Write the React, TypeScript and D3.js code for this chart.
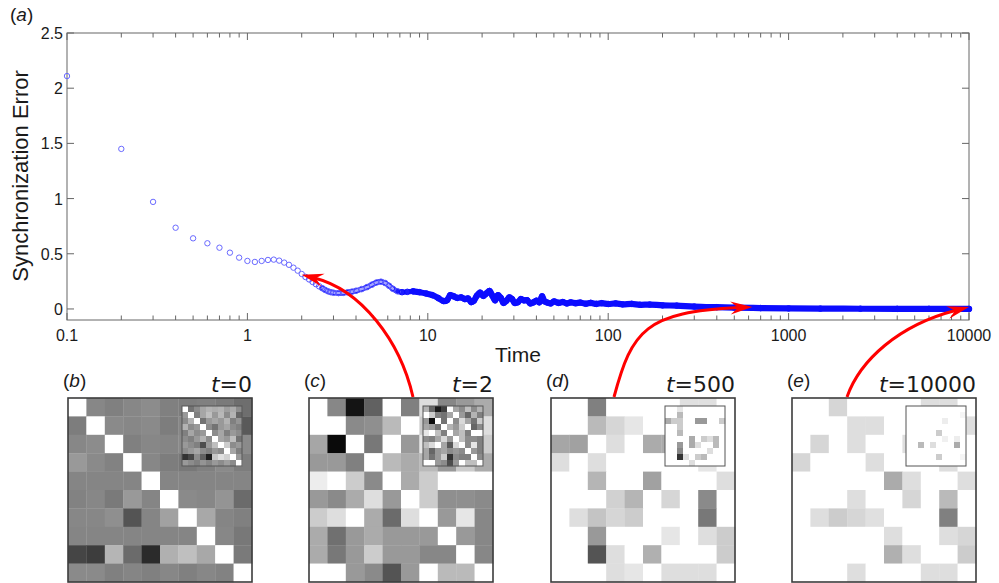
import React, { useEffect, useRef } from 'react';
import * as d3 from 'd3';

// synchronization error, sparse samples (t = 0.1 .. 2.0)
const earlyTime = [0.1, 0.2, 0.3, 0.4, 0.5, 0.6, 0.7, 0.8, 0.9, 1.0, 1.1, 1.2, 1.3, 1.4, 1.5, 1.6, 1.7, 1.8, 1.9, 2.0];
const earlyError = [2.11, 1.45, 0.97, 0.736, 0.64, 0.595, 0.555, 0.51, 0.465, 0.435, 0.426, 0.435, 0.444, 0.447, 0.438, 0.42, 0.4, 0.374, 0.347, 0.317];

// dense part (t > 2)
const denseTime = [2.1, 2.2, 2.3, 2.4, 2.5, 2.6, 2.7, 2.8, 2.9, 3.0, 3.2, 3.4, 3.6, 3.8, 4.0, 4.3, 4.6, 4.9, 5.2, 5.5, 5.8, 6.1, 6.4, 6.8, 7.2, 7.7, 8.3, 9.0, 9.8, 10.6, 11.4, 12.2, 12.8, 13.3, 13.9, 14.6, 15.3, 16.0, 16.7, 17.4, 18.0, 18.7, 19.5, 20.3, 21.1, 22.0, 22.8, 23.6, 24.5, 25.4, 26.3, 27.3, 28.3, 29.3, 30.3, 31.5, 32.8, 34.1, 35.5, 37.0, 38.5, 40.0, 41.5, 43.0, 44.3, 46.0, 48.0, 50, 53, 56, 59, 62, 66, 70, 75, 80, 86, 92, 100, 110, 120, 135, 150, 170, 200, 240, 300, 400, 500, 700, 1000, 1500, 2500, 4000, 6000, 10000];
const denseError = [0.29, 0.268, 0.245, 0.225, 0.205, 0.188, 0.172, 0.16, 0.152, 0.147, 0.144, 0.146, 0.151, 0.157, 0.165, 0.18, 0.198, 0.22, 0.24, 0.247, 0.235, 0.21, 0.183, 0.16, 0.152, 0.155, 0.16, 0.152, 0.14, 0.125, 0.1, 0.072, 0.08, 0.125, 0.115, 0.1, 0.105, 0.09, 0.095, 0.062, 0.075, 0.12, 0.148, 0.118, 0.14, 0.163, 0.12, 0.078, 0.125, 0.1, 0.055, 0.075, 0.105, 0.09, 0.055, 0.06, 0.09, 0.078, 0.08, 0.05, 0.06, 0.075, 0.06, 0.115, 0.07, 0.058, 0.05, 0.068, 0.055, 0.063, 0.05, 0.06, 0.052, 0.058, 0.047, 0.055, 0.046, 0.052, 0.045, 0.05, 0.042, 0.046, 0.038, 0.04, 0.033, 0.03, 0.022, 0.016, 0.012, 0.008, 0.005, 0.003, 0.002, 0.001, 0.001, 0];

const xTicks = [0.1, 1, 10, 100, 1000, 10000];
const yTicks = [0, 0.5, 1, 1.5, 2, 2.5];

// coupling matrices, darkness 0 (white) .. 100 (black)
const matB = [
  [0, 47, 50, 47, 45, 50, 51, 50, 52, 57],
  [51, 0, 46, 47, 46, 51, 47, 48, 50, 65],
  [47, 45, 0, 50, 47, 48, 46, 47, 47, 46],
  [40, 46, 49, 0, 47, 51, 53, 50, 46, 51],
  [48, 48, 48, 48, 0, 48, 48, 48, 48, 48],
  [49, 47, 52, 40, 48, 0, 46, 47, 42, 58],
  [47, 47, 44, 67, 48, 37, 0, 34, 48, 50],
  [48, 48, 48, 48, 48, 48, 48, 0, 47, 53],
  [73, 76, 29, 58, 83, 31, 25, 34, 0, 52],
  [46, 46, 50, 48, 50, 47, 50, 47, 49, 0],
];
const insetB = [
  [0, 55, 45, 35, 30, 32, 30, 38, 33, 45],
  [40, 0, 50, 35, 25, 40, 28, 45, 30, 60],
  [45, 30, 0, 55, 40, 35, 40, 30, 50, 42],
  [30, 45, 40, 0, 45, 55, 40, 35, 45, 50],
  [50, 35, 45, 40, 0, 45, 35, 50, 40, 45],
  [45, 50, 40, 30, 45, 0, 35, 40, 25, 55],
  [40, 45, 50, 70, 40, 25, 0, 20, 45, 40],
  [45, 40, 35, 45, 50, 40, 45, 0, 35, 50],
  [80, 72, 45, 62, 88, 22, 12, 18, 0, 40],
  [40, 45, 50, 42, 48, 40, 45, 38, 45, 0],
];
const matC = [
  [0, 47, 92, 62, 0, 50, 13, 47, 40, 33],
  [0, 0, 46, 44, 27, 0, 20, 35, 30, 13],
  [35, 96, 0, 53, 0, 40, 10, 30, 40, 20],
  [40, 40, 50, 0, 27, 33, 27, 40, 20, 33],
  [7, 0, 20, 46, 0, 33, 20, 0, 0, 0],
  [40, 46, 33, 13, 40, 0, 20, 44, 44, 46],
  [20, 13, 0, 33, 58, 13, 0, 40, 10, 47],
  [33, 56, 40, 33, 40, 40, 40, 0, 40, 47],
  [33, 53, 40, 20, 40, 40, 47, 47, 0, 47],
  [0, 0, 40, 46, 67, 40, 0, 27, 27, 0],
];
const insetC = [
  [30, 60, 90, 75, 0, 35, 45, 25, 45, 30],
  [0, 20, 50, 55, 35, 0, 40, 60, 30, 50],
  [40, 95, 0, 55, 0, 45, 15, 35, 55, 20],
  [35, 40, 55, 0, 30, 40, 20, 0, 60, 45],
  [10, 0, 25, 50, 0, 35, 25, 50, 0, 0],
  [45, 50, 35, 15, 40, 0, 25, 45, 45, 50],
  [25, 15, 0, 35, 65, 15, 0, 45, 10, 50],
  [35, 60, 40, 35, 45, 40, 45, 0, 40, 50],
  [35, 55, 40, 20, 80, 45, 50, 50, 0, 45],
  [0, 0, 40, 45, 70, 40, 0, 25, 25, 0],
];
const matD = [
  [0, 0, 50, 0, 0, 0, 0, 12, 12, 0],
  [0, 0, 27, 16, 10, 0, 0, 0, 0, 0],
  [35, 37, 0, 13, 0, 33, 33, 0, 0, 0],
  [13, 0, 13, 0, 0, 0, 0, 0, 10, 0],
  [0, 0, 29, 0, 0, 37, 0, 0, 0, 13],
  [0, 0, 0, 18, 29, 0, 16, 0, 46, 0],
  [0, 13, 23, 16, 20, 0, 0, 0, 53, 0],
  [0, 0, 40, 0, 0, 0, 10, 0, 13, 20],
  [0, 0, 67, 13, 0, 31, 0, 0, 0, 20],
  [0, 0, 0, 13, 10, 0, 13, 13, 13, 0],
];
const insetD = [
  [0, 0, 10, 0, 0, 0, 0, 0, 0, 0],
  [0, 0, 27, 0, 0, 0, 0, 0, 0, 0],
  [33, 20, 20, 0, 0, 40, 40, 0, 0, 20],
  [0, 0, 20, 0, 0, 0, 0, 0, 0, 0],
  [0, 0, 27, 0, 0, 0, 0, 0, 0, 0],
  [0, 0, 0, 0, 33, 0, 20, 13, 27, 0],
  [0, 0, 40, 0, 33, 13, 0, 0, 27, 0],
  [0, 0, 47, 0, 0, 0, 0, 13, 0, 0],
  [0, 0, 80, 13, 0, 20, 27, 0, 0, 0],
  [0, 0, 0, 0, 13, 0, 0, 0, 0, 0],
];
const matE = [
  [0, 0, 16, 0, 0, 0, 0, 13, 13, 0],
  [0, 0, 0, 13, 13, 0, 0, 0, 0, 13],
  [0, 16, 0, 13, 0, 0, 13, 0, 0, 0],
  [16, 0, 0, 0, 13, 0, 0, 0, 13, 0],
  [0, 0, 0, 0, 0, 33, 13, 0, 0, 13],
  [0, 0, 0, 13, 0, 0, 16, 0, 27, 0],
  [0, 13, 20, 16, 12, 0, 0, 0, 50, 0],
  [0, 0, 0, 0, 0, 13, 0, 0, 13, 16],
  [0, 0, 0, 0, 0, 31, 13, 0, 0, 20],
  [0, 0, 0, 13, 0, 0, 0, 13, 13, 0],
];
const insetE = [
  [0, 0, 0, 0, 0, 0, 0, 0, 0, 0],
  [0, 0, 0, 0, 0, 0, 0, 0, 0, 4],
  [0, 0, 0, 0, 0, 0, 7, 0, 0, 0],
  [0, 0, 0, 0, 0, 0, 0, 0, 0, 0],
  [0, 0, 0, 0, 0, 20, 0, 0, 0, 0],
  [0, 0, 0, 0, 0, 0, 6, 0, 7, 0],
  [0, 0, 27, 0, 13, 0, 0, 0, 33, 0],
  [0, 0, 0, 0, 0, 0, 0, 0, 0, 0],
  [0, 0, 0, 0, 0, 20, 0, 0, 0, 4],
  [0, 0, 0, 0, 0, 0, 0, 0, 0, 0],
];

const panelLetters = ['b', 'c', 'd', 'e'];
const panelTimes = ['0', '2', '500', '10000'];
const panelMain = [matB, matC, matD, matE];
const panelInset = [insetB, insetC, insetD, insetE];

// arrows: which panel they leave from and the (t, error) they point at
const arrowPanel = [1, 2, 3];
const arrowTime = [2, 630, 10000];
const arrowError = [0.31, 0.018, 0.018];

const SANS = '"Liberation Sans", Arial, Helvetica, sans-serif';
const VERA = '"DejaVu Sans", Verdana, sans-serif';

const App = () => {
  const svgRef = useRef<SVGSVGElement>(null);

  useEffect(() => {
    const svg = d3.select(svgRef.current);
    svg.selectAll('*').remove();

    const left = 67, right = 969, top = 33, bottom = 320;
    const x = d3.scaleLog().domain([0.1, 10000]).range([left, right]);
    const y = d3.scaleLinear().domain([-0.1, 2.5]).range([bottom, top]);
    const axisColor = '#666666';

    const g = svg.append('g');

    // frame
    g.append('rect')
      .attr('x', left).attr('y', top)
      .attr('width', right - left).attr('height', bottom - top)
      .attr('fill', 'none').attr('stroke', axisColor).attr('stroke-width', 1);

    // x ticks (log, inward, top + bottom)
    const allX = x.ticks();
    allX.forEach(v => {
      const major = Math.abs(Math.log10(v) - Math.round(Math.log10(v))) < 1e-6;
      const len = major ? 7 : 4.5;
      const px = x(v);
      g.append('line').attr('x1', px).attr('x2', px).attr('y1', bottom).attr('y2', bottom - len)
        .attr('stroke', axisColor);
      g.append('line').attr('x1', px).attr('x2', px).attr('y1', top).attr('y2', top + len)
        .attr('stroke', axisColor);
    });
    yTicks.forEach(v => {
      g.append('line').attr('x1', left).attr('x2', left + 7).attr('y1', y(v)).attr('y2', y(v))
        .attr('stroke', axisColor);
      g.append('line').attr('x1', right).attr('x2', right - 7).attr('y1', y(v)).attr('y2', y(v))
        .attr('stroke', axisColor);
    });

    g.selectAll('.xlab').data(xTicks).enter().append('text')
      .attr('x', d => x(d)).attr('y', 341)
      .attr('text-anchor', 'middle')
      .style('font-family', SANS).style('font-size', '16px').style('fill', '#1a1a1a')
      .text(d => String(d));

    g.selectAll('.ylab').data(yTicks).enter().append('text')
      .attr('x', 63).attr('y', d => y(d) + 6)
      .attr('text-anchor', 'end')
      .style('font-family', SANS).style('font-size', '16px').style('fill', '#1a1a1a')
      .text(d => String(d));

    g.append('text')
      .attr('x', 518).attr('y', 362)
      .attr('text-anchor', 'middle')
      .style('font-family', SANS).style('font-size', '21px').style('fill', '#1a1a1a')
      .text('Time');

    g.append('text')
      .attr('transform', 'translate(28, 176) rotate(-90)')
      .attr('text-anchor', 'middle')
      .style('font-family', SANS).style('font-size', '22px').style('fill', '#1a1a1a')
      .text('Synchronization Error');

    const aLab = g.append('text').attr('x', 10).attr('y', 21)
      .style('font-family', SANS).style('font-size', '19px').style('fill', '#1a1a1a');
    aLab.append('tspan').text('(');
    aLab.append('tspan').style('font-style', 'italic').text('a');
    aLab.append('tspan').text(')');

    // dense band
    const dense = denseTime.map((t, i) => ({ t, v: denseError[i] }));
    const line = d3.line<{ t: number; v: number }>()
      .x(d => x(d.t)).y(d => y(d.v))
      .curve(d3.curveCatmullRom);

    g.append('path')
      .datum(dense.filter(d => d.t >= 2.6 && d.t <= 8.5))
      .attr('d', line)
      .attr('fill', 'none').attr('stroke', '#1c1cff').attr('stroke-width', 5.2)
      .attr('stroke-linecap', 'round');
    g.append('path')
      .datum(dense.filter(d => d.t >= 8))
      .attr('d', line)
      .attr('fill', 'none').attr('stroke', '#0c0cff').attr('stroke-width', 6.2)
      .attr('stroke-linecap', 'round');
    g.append('path')
      .datum(dense.filter(d => d.t >= 2.6 && d.t <= 6.6))
      .attr('d', line)
      .attr('fill', 'none').attr('stroke', '#a4a4ff').attr('stroke-width', 2.6)
      .attr('stroke-linecap', 'round');

    g.selectAll('.dpt').data(dense).enter().append('circle')
      .attr('cx', d => x(d.t)).attr('cy', d => y(d.v)).attr('r', 2.8)
      .attr('fill', 'none')
      .attr('stroke', d => (d.t < 7 ? '#5858ff' : '#0c0cff'))
      .attr('stroke-width', 1);

    g.selectAll('.ept').data(earlyTime).enter().append('circle')
      .attr('cx', d => x(d)).attr('cy', (d, i) => y(earlyError[i])).attr('r', 2.7)
      .attr('fill', 'none').attr('stroke', '#6a6aff').attr('stroke-width', 1);

    // heat map panels
    const panelX = [68, 309, 551, 792];
    const panelY = 398;
    const size = 184;
    const n = 10;
    const cell = size / n;
    const insetSize = 60;
    const grey = d3.scaleLinear<string>().domain([0, 100]).range(['#ffffff', '#000000']);

    panelLetters.forEach((letter, p) => {
      const px = panelX[p];
      const pg = svg.append('g').attr('transform', `translate(${px}, ${panelY})`);
      const cells = panelMain[p].flatMap((row, r) => row.map((v, c) => ({ r, c, v })));
      pg.selectAll('.cell').data(cells).enter().append('rect')
        .attr('x', d => d.c * cell).attr('y', d => d.r * cell)
        .attr('width', cell + 0.3).attr('height', cell + 0.3)
        .attr('fill', d => grey(d.v));
      pg.append('rect').attr('x', 0).attr('y', 0).attr('width', size).attr('height', size)
        .attr('fill', 'none').attr('stroke', '#3c3c3c').attr('stroke-width', 1.6);

      const ig = pg.append('g').attr('transform', `translate(114, 8)`);
      const ic = insetSize / n;
      const icells = panelInset[p].flatMap((row, r) => row.map((v, c) => ({ r, c, v })));
      ig.selectAll('.icell').data(icells).enter().append('rect')
        .attr('x', d => d.c * ic).attr('y', d => d.r * ic)
        .attr('width', ic + 0.2).attr('height', ic + 0.2)
        .attr('fill', d => grey(d.v));
      ig.append('rect').attr('x', 0).attr('y', 0).attr('width', insetSize).attr('height', insetSize)
        .attr('fill', 'none').attr('stroke', '#555').attr('stroke-width', 1);

      const lab = svg.append('text').attr('x', px - 5).attr('y', 387)
        .style('font-family', SANS).style('font-size', '19px').style('fill', '#1a1a1a');
      lab.append('tspan').text('(');
      lab.append('tspan').style('font-style', 'italic').text(letter);
      lab.append('tspan').text(')');

      const tl = svg.append('text').attr('x', px + size).attr('y', 392)
        .attr('text-anchor', 'end')
        .style('font-family', VERA).style('font-size', '22px').style('fill', '#1a1a1a');
      tl.append('tspan').style('font-style', 'italic').text('t');
      tl.append('tspan').text('=' + panelTimes[p]);
    });

    // red arrows
    const startOffset = [104, 63, 55];
    const c1Offset = [[-13, -57], [18, -67], [13, -37]];
    const c2Offset = [[59, 15], [-107, 5], [-70, 18]];
    arrowPanel.forEach((p, i) => {
      const s: [number, number] = [panelX[p] + startOffset[i], panelY - 1];
      const e: [number, number] = [x(arrowTime[i]), y(arrowError[i])];
      const c1 = [s[0] + c1Offset[i][0], s[1] + c1Offset[i][1]];
      const c2 = [e[0] + c2Offset[i][0], e[1] + c2Offset[i][1]];
      const dx = e[0] - c2[0], dy = e[1] - c2[1];
      const len = Math.hypot(dx, dy);
      const ux = dx / len, uy = dy / len, nx = -uy, ny = ux;
      const L = 22, W = 6.5;
      const back = [e[0] - 0.6 * L * ux, e[1] - 0.6 * L * uy];
      const path = d3.path();
      path.moveTo(s[0], s[1]);
      path.bezierCurveTo(c1[0], c1[1], c2[0], c2[1], back[0], back[1]);
      svg.append('path').attr('d', path.toString())
        .attr('fill', 'none').attr('stroke', '#ff0000').attr('stroke-width', 3);
      const head = [
        [e[0], e[1]],
        [e[0] - L * ux + W * nx, e[1] - L * uy + W * ny],
        [e[0] - 0.65 * L * ux, e[1] - 0.65 * L * uy],
        [e[0] - L * ux - W * nx, e[1] - L * uy - W * ny],
      ];
      svg.append('polygon').attr('points', head.map(q => q.join(',')).join(' '))
        .attr('fill', '#ff0000');
    });
  }, []);

  return (
    <svg ref={svgRef} width={999} height={583}
      style={{ position: 'absolute', left: 0, top: 0, background: '#ffffff' }} />
  );
};

export default App;
